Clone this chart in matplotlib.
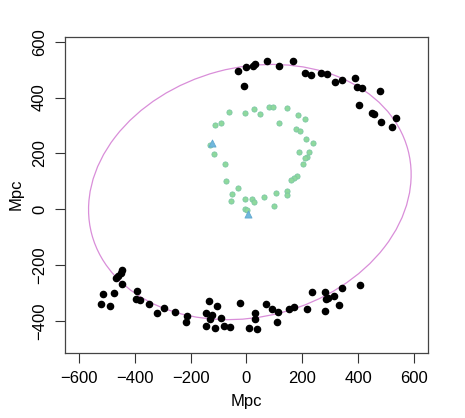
import numpy as np
import matplotlib.pyplot as plt
from matplotlib.patches import Ellipse

plt.rcParams['font.family'] = ['Liberation Sans', 'DejaVu Sans']

# black galaxies (Mpc), upper arc
top_x = [-30, -1, 24, 30, 72, 117, 167, -10, 211, 232, 268, 290, 316, 341,
         387, 396, 414, 477, 402, 448, 456, 480, 535, 520]
top_y = [496, 511, 514, 519, 530, 514, 531, 441, 489, 482, 487, 483, 455, 463,
         471, 439, 433, 424, 372, 346, 342, 313, 326, 296]

# black galaxies, lower arc
bot_x = [-445, -451, -460, -467, -447, -475, -515, -520, -490, -391, -395, -382,
         -348, -296, -322, -257, -212, -215, -133, -105, -25, -146, -123, -131,
         -91, -146, -112, -81, -60, 8, 32, 31, 38, 69, 90, 114, 110, 151, 169,
         215, 236, 280, 284, 291, 313, 280, 333, 343, 406]
bot_y = [-217, -227, -238, -247, -267, -299, -304, -337, -346, -293, -319, -324,
         -337, -352, -372, -369, -382, -402, -327, -346, -335, -371, -378, -394,
         -387, -418, -426, -418, -420, -426, -370, -394, -427, -337, -358, -368,
         -404, -357, -349, -358, -295, -296, -322, -317, -309, -364, -342, -283,
         -270]

# green ring
ring_x = [-61, -7, 26, 50, 82, 96, 144, 184, 209, 116, -114, -91, 179, 191, 212,
          239, -129, -115, 187, 223, 217, 210, 204, -78, 182, 169, 161, -75, -31,
          -51, -55, 144, 146, 105, 61, -7, 20, 26, 98, -7, 3]
ring_y = [349, 344, 359, 340, 368, 365, 364, 338, 322, 310, 302, 308, 286, 280,
          251, 236, 230, 198, 206, 204, 188, 183, 162, 162, 119, 111, 104, 102,
          76, 54, 30, 67, 51, 59, 44, 37, 37, 27, 12, 1, -2]

# blue triangles
tri_x = [-123, 5]
tri_y = [238, -18]

# fitted ellipse
ell_center = (12, 62)
ell_width = 2 * 586
ell_height = 2 * 446
ell_angle = 15

fig = plt.figure(figsize=(4.65, 4.18), dpi=100)
ax = fig.add_axes([0.1398, 0.1562, 0.7806, 0.7560])

ax.add_patch(Ellipse(ell_center, ell_width, ell_height, angle=ell_angle,
                     fill=False, edgecolor='#d98ed9', linewidth=0.9, zorder=1))

ax.scatter(top_x + bot_x, top_y + bot_y, s=20, color='black', zorder=3)
ax.scatter(ring_x, ring_y, s=14, facecolor='#8fd99c', edgecolor='#7cc7a6',
           linewidths=0.6, zorder=2)
ax.scatter(tri_x, tri_y, s=26, marker='^', facecolor='#70b8dc',
           edgecolor='#62a8d0', linewidths=0.6, zorder=2)

ax.set_xlim(-650, 650)
ax.set_ylim(-513, 618)
ax.set_xticks(np.arange(-600, 601, 200))
ax.set_yticks(np.arange(-400, 601, 200))
ax.set_yticklabels([str(v).replace('-', '\u2212') for v in range(-400, 601, 200)],
                   rotation=90, va='center')
ax.tick_params(direction='out', length=7, width=0.8, labelsize=12, pad=6,
               colors='#333333', labelcolor='black')
for s in ax.spines.values():
    s.set_linewidth(0.9)
    s.set_color('#444444')

ax.set_xlabel('Mpc', fontsize=12, labelpad=6)
ax.set_ylabel('Mpc', fontsize=12, labelpad=6)

fig.savefig('out.png', dpi=100)
